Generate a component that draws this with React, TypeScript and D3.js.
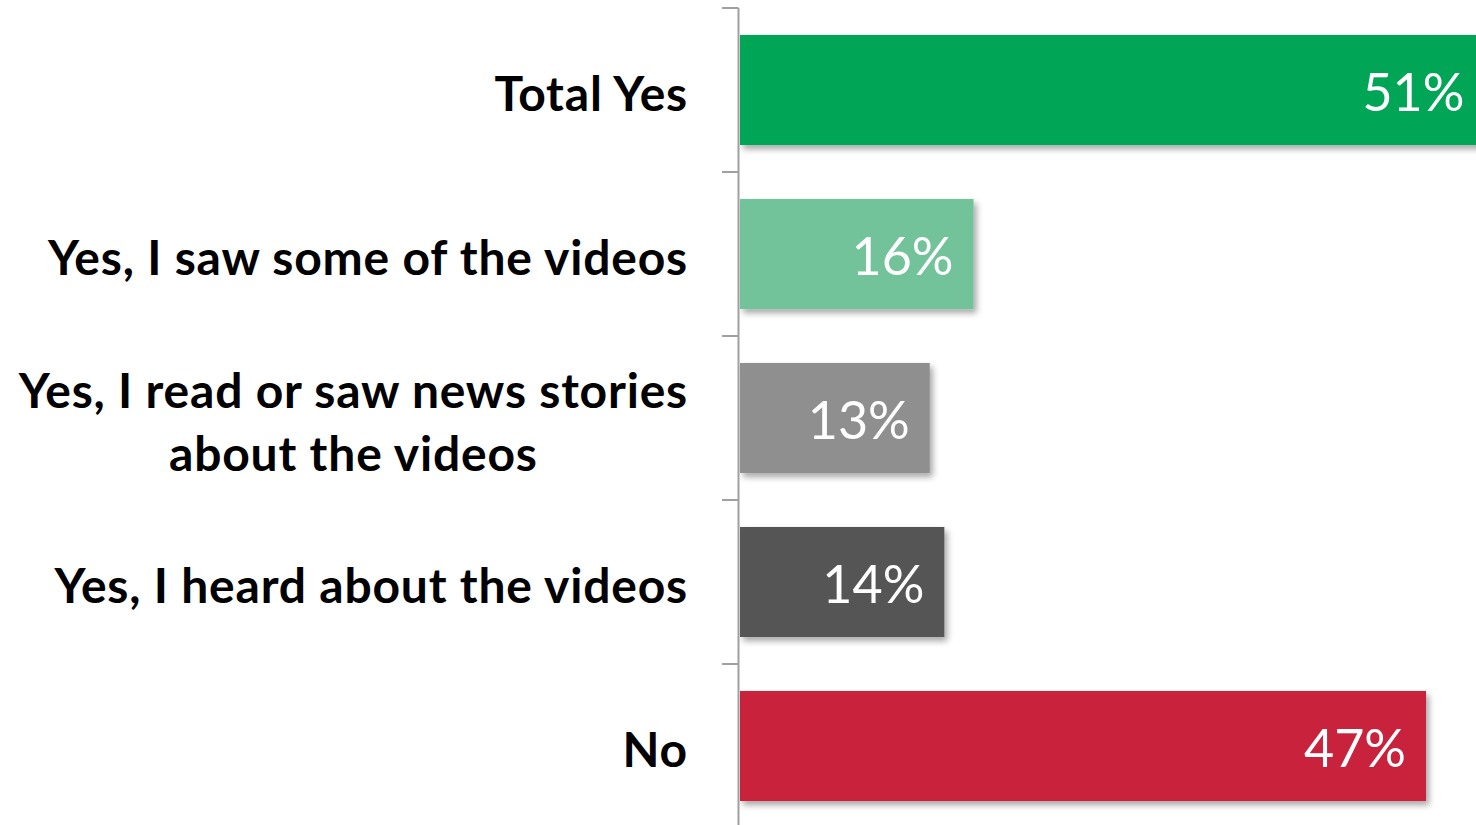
import React, { useEffect, useRef } from "react";
import * as d3 from "d3";

const categories: string[][] = [
  ["Total Yes"],
  ["Yes, I saw some of the videos"],
  ["Yes, I read or saw news stories", "about the videos"],
  ["Yes, I heard about the videos"],
  ["No"],
];
const values: number[] = [51, 16, 13, 14, 47];
const colors: string[] = ["#02a556", "#72c29a", "#8f8f8f", "#555555", "#c8223c"];

const W = 1476;
const H = 825;

export default function App() {
  const ref = useRef<SVGSVGElement | null>(null);

  useEffect(() => {
    const svg = d3.select(ref.current);
    svg.selectAll("*").remove();

    const defs = svg.append("defs");
    const f = defs.append("filter").attr("id", "shadow").attr("x", "-5%").attr("y", "-20%").attr("width", "120%").attr("height", "150%");
    f.append("feDropShadow").attr("dx", 3).attr("dy", 4).attr("stdDeviation", 3).attr("flood-color", "#000").attr("flood-opacity", 0.35);
    defs.append("clipPath").attr("id", "clip").append("rect").attr("x", 0).attr("y", 0).attr("width", W).attr("height", H);

    const keys = categories.map((c) => c.join(" "));
    const y = d3.scaleBand<string>().domain(keys).range([8, 828]).paddingInner(0.329).paddingOuter(0.1645);
    const x0 = 740;
    const x = d3.scaleLinear().domain([0, 47]).range([x0, 1426]);

    const g = svg.append("g").attr("clip-path", "url(#clip)");

    // bars
    g.selectAll("rect.bar")
      .data(values)
      .join("rect")
      .attr("class", "bar")
      .attr("x", x(0))
      .attr("y", (_, i) => y(keys[i])!)
      .attr("width", (d) => x(d) - x(0))
      .attr("height", y.bandwidth())
      .attr("fill", (_, i) => colors[i])
      .attr("filter", "url(#shadow)");

    // axis
    const step = y.step();
    const axisX = 738.5;
    g.append("line")
      .attr("x1", axisX).attr("x2", axisX)
      .attr("y1", 8).attr("y2", H + 5)
      .attr("stroke", "#a0a0a0").attr("stroke-width", 2);
    d3.range(keys.length + 1).forEach((i) => {
      const ty = 8 + i * step;
      g.append("line")
        .attr("x1", 722).attr("x2", axisX)
        .attr("y1", ty).attr("y2", ty)
        .attr("stroke", "#a0a0a0").attr("stroke-width", 2);
    });

    // value labels
    g.selectAll("text.val")
      .data(values)
      .join("text")
      .attr("class", "val")
      .attr("x", (d) => x(d) - 20)
      .attr("y", (_, i) => y(keys[i])! + y.bandwidth() / 2 + 21)
      .attr("text-anchor", "end")
      .attr("fill", "#ffffff")
      .attr("font-family", "Lato, 'Open Sans', sans-serif")
      .attr("font-size", 52)
      .text((d) => `${d}%`);

    // category labels
    const labelRight = 688;
    categories.forEach((lines, i) => {
      const cy = y(keys[i])! + y.bandwidth() / 2;
      const lineH = 63;
      const tg = g.append("g");
      const texts = lines.map((ln, j) =>
        tg.append("text")
          .attr("y", cy + (j - (lines.length - 1) / 2) * lineH + 21)
          .attr("font-family", "Lato, 'Open Sans', sans-serif")
          .attr("font-weight", "bold")
          .attr("font-size", 48)
          .attr("letter-spacing", 0.8)
          .attr("fill", "#000")
          .text(ln)
      );
      const widths = texts.map((t) => (t.node() as SVGTextElement).getComputedTextLength());
      const maxW = Math.max(...widths);
      texts.forEach((t) => t.attr("x", labelRight - maxW / 2).attr("text-anchor", "middle"));
    });
  }, []);

  return (
    <svg
      ref={ref}
      width={W}
      height={H}
      style={{ position: "absolute", left: 0, top: 0, background: "#fff", display: "block" }}
    />
  );
}
